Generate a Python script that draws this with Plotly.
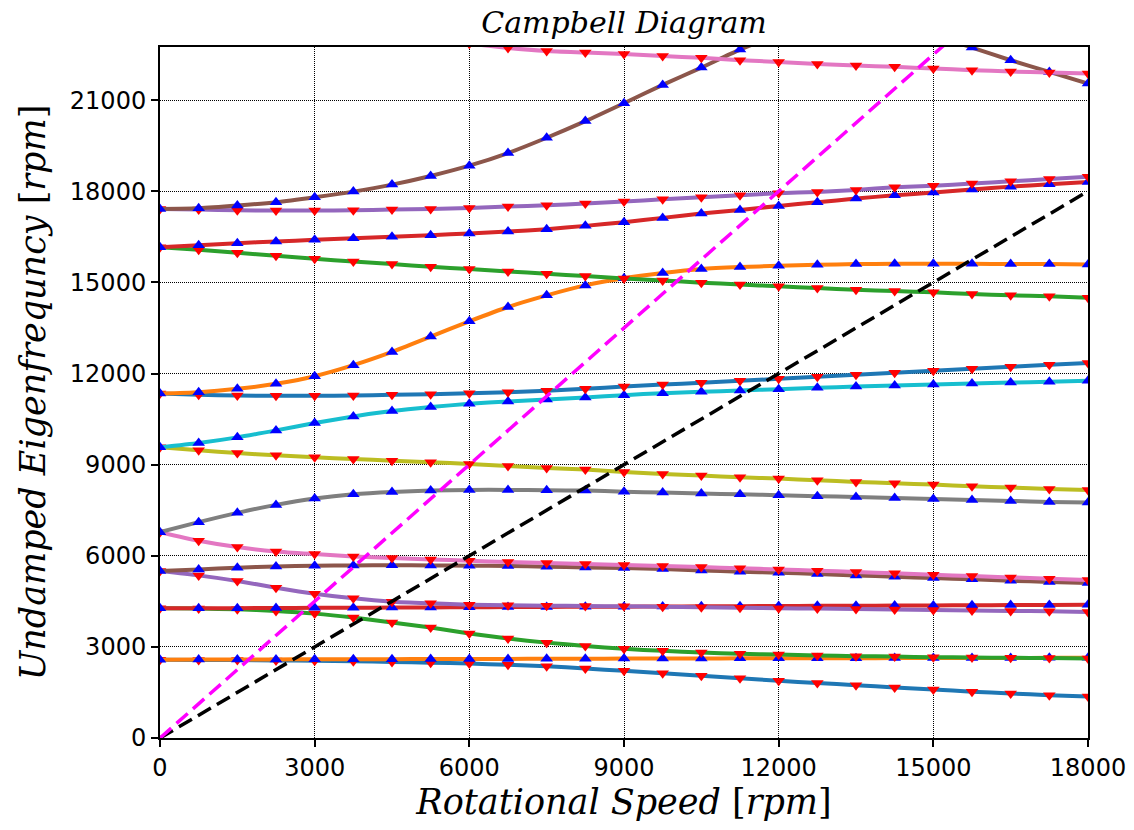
import plotly.graph_objects as go

# Rotational speed sample points [rpm]
speed = [0, 750, 1500, 2250, 3000, 3750, 4500, 5250, 6000, 6750, 7500, 8250, 9000,
         9750, 10500, 11250, 12000, 12750, 13500, 14250, 15000, 15750, 16500, 17250, 18000]

# Undamped eigenfrequencies of each mode [rpm]
mode01 = [2575, 2570, 2565, 2555, 2540, 2525, 2505, 2480, 2450, 2410, 2360, 2290, 2210, 2135, 2050, 1965, 1885, 1810, 1740, 1665, 1600, 1525, 1465, 1410, 1370]
mode02 = [2580, 2582, 2585, 2588, 2590, 2593, 2596, 2599, 2602, 2605, 2608, 2611, 2614, 2617, 2620, 2622, 2624, 2626, 2628, 2630, 2632, 2634, 2636, 2638, 2640]
mode03 = [4270, 4260, 4237, 4180, 4095, 3965, 3800, 3635, 3440, 3275, 3140, 3030, 2935, 2870, 2815, 2770, 2745, 2715, 2695, 2680, 2662, 2650, 2640, 2630, 2620]
mode04 = [4270, 4272, 4275, 4280, 4285, 4290, 4295, 4300, 4305, 4310, 4315, 4320, 4325, 4330, 4335, 4340, 4345, 4350, 4355, 4360, 4365, 4370, 4375, 4380, 4385]
mode05 = [5496, 5354, 5168, 4949, 4752, 4599, 4489, 4434, 4390, 4370, 4358, 4347, 4335, 4320, 4305, 4290, 4275, 4260, 4245, 4230, 4215, 4200, 4185, 4170, 4150]
mode06 = [5496, 5550, 5606, 5650, 5672, 5683, 5685, 5683, 5672, 5661, 5639, 5617, 5595, 5560, 5518, 5475, 5442, 5398, 5354, 5310, 5266, 5223, 5179, 5135, 5102]
mode07 = [6777, 6493, 6285, 6142, 6055, 5978, 5923, 5880, 5836, 5792, 5759, 5726, 5693, 5660, 5628, 5590, 5551, 5508, 5464, 5420, 5376, 5332, 5288, 5244, 5200]
mode08 = [6777, 7106, 7412, 7675, 7883, 8025, 8102, 8146, 8168, 8168, 8157, 8146, 8110, 8080, 8047, 8025, 7992, 7960, 7938, 7905, 7872, 7839, 7806, 7773, 7751]
mode09 = [9569, 9470, 9383, 9307, 9241, 9186, 9131, 9077, 9022, 8956, 8891, 8836, 8760, 8693, 8639, 8584, 8540, 8485, 8431, 8387, 8343, 8288, 8245, 8201, 8168]
mode10 = [9569, 9712, 9898, 10128, 10369, 10588, 10763, 10894, 11004, 11080, 11146, 11212, 11288, 11354, 11398, 11442, 11485, 11529, 11573, 11606, 11639, 11672, 11704, 11726, 11759]
mode11 = [11343, 11300, 11277, 11266, 11266, 11277, 11299, 11321, 11354, 11387, 11431, 11496, 11573, 11639, 11693, 11759, 11825, 11890, 11956, 12022, 12088, 12153, 12219, 12285, 12350]
mode12 = [11343, 11387, 11496, 11661, 11912, 12274, 12712, 13215, 13719, 14190, 14573, 14901, 15136, 15306, 15438, 15504, 15547, 15580, 15602, 15613, 15613, 15613, 15602, 15602, 15591]
mode13 = [16161, 16073, 15974, 15876, 15777, 15690, 15602, 15515, 15438, 15361, 15285, 15208, 15131, 15066, 14989, 14934, 14869, 14814, 14759, 14715, 14672, 14617, 14573, 14540, 14496]
mode14 = [16161, 16226, 16292, 16347, 16401, 16456, 16500, 16555, 16609, 16675, 16752, 16861, 16982, 17124, 17266, 17387, 17518, 17639, 17759, 17869, 17956, 18055, 18153, 18230, 18307]
mode15 = [17420, 17398, 17376, 17365, 17365, 17376, 17398, 17420, 17453, 17496, 17540, 17595, 17660, 17737, 17803, 17869, 17934, 17978, 18044, 18131, 18186, 18252, 18328, 18405, 18482]
mode16 = [17420, 17442, 17529, 17639, 17803, 17989, 18219, 18504, 18843, 19259, 19763, 20310, 20900, 21503, 22073, 22664, 23150, 23450, 23550, 23450, 23150, 22730, 22314, 21931, 21547]
mode17 = [23500, 23450, 23400, 23340, 23270, 23200, 23120, 23000, 22860, 22720, 22620, 22570, 22520, 22450, 22395, 22317, 22260, 22190, 22141, 22097, 22043, 21987, 21943, 21911, 21877]

modes = [mode01, mode02, mode03, mode04, mode05, mode06, mode07, mode08, mode09,
         mode10, mode11, mode12, mode13, mode14, mode15, mode16, mode17]
# whirl direction: 'B' backward (red down triangles), 'F' forward (blue up triangles)
whirl = ['B', 'F', 'B', 'F', 'B', 'F', 'B', 'F', 'B', 'F', 'B', 'F', 'B', 'F', 'B', 'F', 'B']

# excitation lines (1X and 1.5X)
exc_speed = [0, 18000]
exc_1x = [0, 18000]
exc_15x = [0, 27000]

x_ticks = [0, 3000, 6000, 9000, 12000, 15000, 18000]
x_ticklabels = ['0', '3000', '6000', '9000', '12000', '15000', '18000']
y_ticks = [0, 3000, 6000, 9000, 12000, 15000, 18000, 21000]
y_ticklabels = ['0', '3000', '6000', '9000', '12000', '15000', '18000', '21000']

tab10 = ['#1f77b4', '#ff7f0e', '#2ca02c', '#d62728', '#9467bd',
         '#8c564b', '#e377c2', '#7f7f7f', '#bcbd22', '#17becf']

fig = go.Figure()
for i, (vals, w) in enumerate(zip(modes, whirl)):
    fig.add_trace(go.Scatter(
        x=speed, y=vals, mode='lines+markers',
        line=dict(color=tab10[i % 10], width=4, shape='spline', smoothing=0.6),
        marker=dict(symbol='triangle-down' if w == 'B' else 'triangle-up',
                    color='#ff0000' if w == 'B' else '#0000ff', size=11,
                    line=dict(width=0)),
        showlegend=False, hoverinfo='x+y'))

fig.add_trace(go.Scatter(x=exc_speed, y=exc_1x, mode='lines',
                         line=dict(color='black', width=3.5, dash='15px,7px'),
                         showlegend=False))
fig.add_trace(go.Scatter(x=exc_speed, y=exc_15x, mode='lines',
                         line=dict(color='#ff00ff', width=3.5, dash='15px,7px'),
                         showlegend=False))

axis_common = dict(
    showline=True, linecolor='black', linewidth=2, mirror=True,
    ticks='outside', ticklen=7, tickwidth=1.5, tickcolor='black',
    showgrid=True, gridcolor='black', gridwidth=1, griddash='1px,1px',
    zeroline=False, automargin=False,
    tickfont=dict(family='DejaVu Sans', size=24, color='black'),
)

fig.update_xaxes(range=[0, 18000], tickvals=x_ticks, ticktext=x_ticklabels,
                 title=dict(text='<i>Rotational Speed</i> [<i>rpm</i>]',
                            font=dict(family='DejaVu Serif', size=35, color='black'),
                            standoff=9),
                 **axis_common)
fig.update_yaxes(range=[0, 22750], tickvals=y_ticks, ticktext=y_ticklabels,
                 title=dict(text='<i>Undamped Eigenfrequncy</i> [<i>rpm</i>]',
                            font=dict(family='DejaVu Serif', size=35, color='black'),
                            standoff=14),
                 **axis_common)

fig.update_layout(
    width=1134, height=830,
    margin=dict(l=160, r=46, t=47, b=92),
    plot_bgcolor='white', paper_bgcolor='white',
    showlegend=False,
    title=dict(text='<i>Campbell Diagram</i>', x=0.5, xref='paper', xanchor='center',
               y=1 - 22 / 830, yanchor='middle', yref='container',
               font=dict(family='DejaVu Serif', size=30, color='black')),
)

# remove the browser's default 8px page margin so the figure sits at the top-left
fig.write_html('out.html', config={'displayModeBar': False},
               post_script="document.body.style.margin='0';")
